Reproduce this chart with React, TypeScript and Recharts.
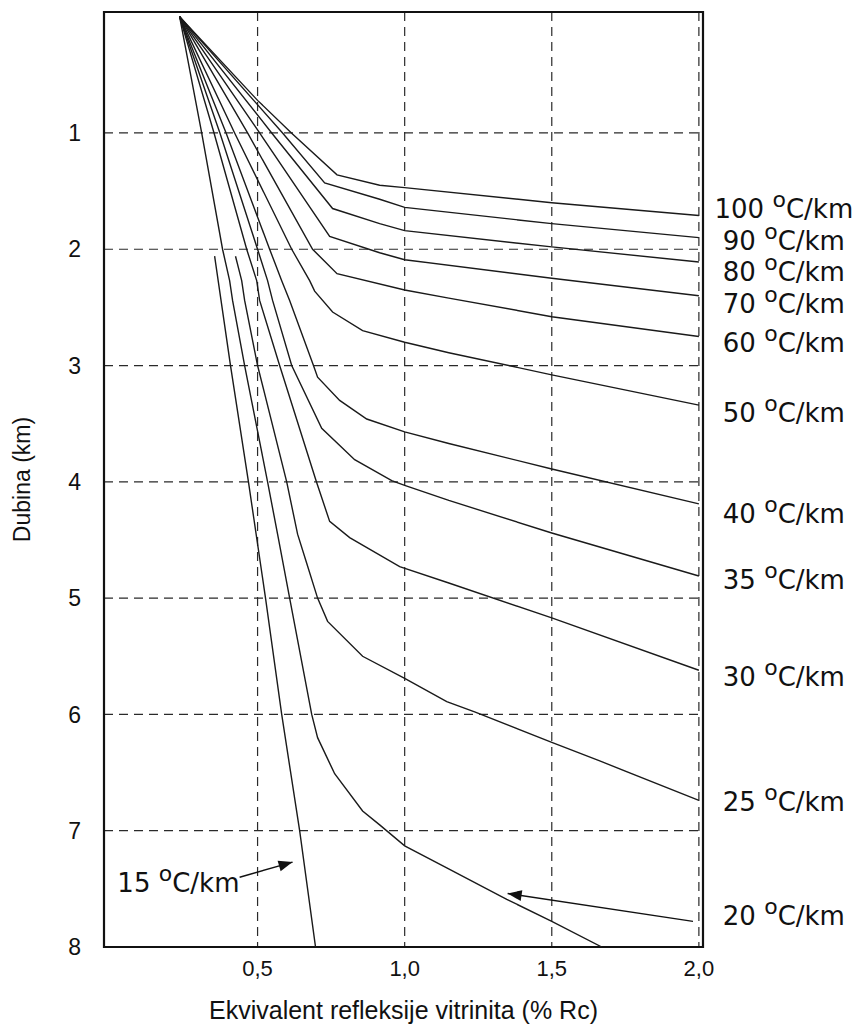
import {
  LineChart,
  Line,
  XAxis,
  YAxis,
  CartesianGrid,
  ReferenceArea,
  ReferenceDot,
  ReferenceLine,
} from "recharts";

// Depth (km) vs. equivalent vitrinite reflectance (% Rc), one curve per geothermal gradient.
const X_TICKS = [0.5, 1.0, 1.5, 2.0];
const Y_TICKS = [1, 2, 3, 4, 5, 6, 7, 8];

const G100 = [[0.235, 0], [0.5, 0.72], [0.615, 1.0], [0.77, 1.36], [0.915, 1.45], [1.0, 1.47], [1.5, 1.6], [2.0, 1.71]];
const G90 = [[0.235, 0], [0.585, 1.0], [0.728, 1.43], [0.915, 1.57], [1.0, 1.64], [1.5, 1.78], [2.0, 1.9]];
const G80 = [[0.235, 0], [0.548, 1.0], [0.755, 1.65], [0.915, 1.78], [1.0, 1.84], [1.5, 1.98], [2.0, 2.11]];
const G70 = [[0.235, 0], [0.507, 1.0], [0.745, 1.89], [0.915, 2.03], [1.0, 2.09], [1.5, 2.25], [2.0, 2.4]];
const G60 = [[0.235, 0], [0.466, 1.0], [0.687, 2.0], [0.77, 2.21], [1.0, 2.35], [1.15, 2.42], [1.5, 2.58], [2.0, 2.75]];
const G50 = [[0.235, 0], [0.422, 1.0], [0.616, 2.0], [0.677, 2.27], [0.694, 2.36], [0.755, 2.54], [0.857, 2.7], [1.0, 2.8], [1.15, 2.89], [1.5, 3.08], [2.0, 3.34]];
const G40 = [[0.235, 0], [0.393, 1.0], [0.541, 2.0], [0.582, 2.27], [0.609, 2.44], [0.69, 3.0], [0.704, 3.1], [0.779, 3.3], [0.871, 3.46], [1.0, 3.57], [1.15, 3.67], [1.5, 3.89], [2.0, 4.19]];
const G35 = [[0.235, 0], [0.372, 1.0], [0.5, 2.0], [0.534, 2.27], [0.551, 2.44], [0.616, 3.0], [0.718, 3.54], [0.83, 3.81], [0.956, 3.99], [1.0, 4.03], [1.15, 4.16], [1.5, 4.44], [2.0, 4.81]];
const G30 = [[0.235, 0], [0.352, 1.0], [0.463, 2.0], [0.497, 2.27], [0.507, 2.44], [0.575, 3.0], [0.7, 4.0], [0.745, 4.34], [0.813, 4.48], [0.983, 4.73], [1.15, 4.87], [1.5, 5.17], [2.0, 5.62]];
const G25 = [[0.425, 2.06], [0.446, 2.27], [0.456, 2.44], [0.5, 3.0], [0.599, 4.0], [0.636, 4.45], [0.667, 4.7], [0.704, 5.0], [0.738, 5.2], [0.857, 5.5], [1.0, 5.69], [1.143, 5.89], [1.24, 5.98], [1.5, 6.24], [1.663, 6.4], [2.0, 6.74]];
const G20 = [[0.235, 0], [0.31, 1.0], [0.381, 2.0], [0.405, 2.27], [0.415, 2.44], [0.456, 3.0], [0.534, 4.0], [0.568, 4.45], [0.609, 5.0], [0.684, 6.0], [0.704, 6.2], [0.762, 6.51], [0.857, 6.83], [0.915, 6.95], [1.0, 7.13], [1.143, 7.32], [1.347, 7.59], [1.5, 7.78], [1.67, 8.0]];
const G15 = [[0.354, 2.06], [0.408, 3.0], [0.469, 4.0], [0.527, 5.0], [0.582, 6.0], [0.643, 7.0], [0.697, 8.0]];

const CURVES = [G100, G90, G80, G70, G60, G50, G40, G35, G30, G25, G20, G15];

// gradient labels on the right side: [gradient, depth of label]
const RIGHT_LABELS: [string, number][] = [
  ["100", 1.65], ["90", 1.93], ["80", 2.2], ["70", 2.47], ["60", 2.81], ["50", 3.41],
  ["40", 4.28], ["35", 4.84], ["30", 5.68], ["25", 6.75], ["20", 7.73],
];
const LABEL_15: [number, number] = [0.231, 7.45];

// annotation arrows: [tailX, tailD, tipX, tipD]
const ARROWS = [
  [0.439, 7.4, 0.619, 7.27],
  [1.98, 7.78, 1.35, 7.54],
];

const X_DOMAIN: [number, number] = [-0.022, 2.014];
const Y_DOMAIN: [number, number] = [-0.04, 8];
const PLOT_W = 599;
const PLOT_H = 935;
const SX = PLOT_W / (X_DOMAIN[1] - X_DOMAIN[0]);
const SY = PLOT_H / (Y_DOMAIN[1] - Y_DOMAIN[0]);

const FONT = "'Liberation Sans', Arial, sans-serif";
const LABEL_FONT = "'DejaVu Sans', sans-serif";
const INK = "#111";

const toPts = (arr: number[][]) => arr.map(([x, d]) => ({ x, d }));

function gradText(x: number, y: number, value: string) {
  return (
    <text x={x} y={y} textAnchor="middle" fontFamily={LABEL_FONT} fontSize={26} fill={INK}>
      {value}{" "}
      <tspan fontSize={22} dy={-11}>o</tspan>
      <tspan dy={11}>C/km</tspan>
    </text>
  );
}

function YTitle(props: any) {
  const { viewBox } = props;
  const cx = viewBox.x - 22;
  const cy = viewBox.y + viewBox.height / 2;
  return (
    <text
      x={cx}
      y={cy}
      transform={`rotate(-90 ${cx} ${cy})`}
      textAnchor="middle"
      dominantBaseline="central"
      fontFamily={FONT}
      fontSize={23}
      fill={INK}
    >
      Dubina (km)
    </text>
  );
}

function XTitle(props: any) {
  const { viewBox } = props;
  return (
    <text
      x={viewBox.x + viewBox.width / 2}
      y={viewBox.y + 72}
      textAnchor="middle"
      fontFamily={FONT}
      fontSize={25}
      fill={INK}
    >
      Ekvivalent refleksije vitrinita (% Rc)
    </text>
  );
}

export default function App() {
  // fixed box so the page never grows a scrollbar
  return (
    <div style={{ position: "fixed", left: 8, top: 8, width: 847, height: 1020, background: "#fff" }}>
      <LineChart width={847} height={1020} margin={{ top: 4, right: 152, bottom: 41, left: 36 }}>
        <CartesianGrid stroke="#2a2a2a" strokeWidth={1.2} strokeDasharray="9 6" />
        <XAxis
          type="number"
          dataKey="x"
          domain={X_DOMAIN}
          ticks={X_TICKS}
          allowDataOverflow
          axisLine={false}
          tickLine={false}
          tickSize={0}
          tickMargin={13}
          height={40}
          tick={{ fontSize: 22, fill: INK, fontFamily: FONT }}
          tickFormatter={(v: number) => v.toFixed(1).replace(".", ",")}
          label={XTitle}
        />
        <YAxis
          type="number"
          dataKey="d"
          reversed
          domain={Y_DOMAIN}
          ticks={Y_TICKS}
          allowDataOverflow
          axisLine={false}
          tickLine={false}
          tickSize={0}
          tickMargin={23}
          width={60}
          tick={{ fontSize: 23, fill: INK, fontFamily: FONT }}
          label={YTitle}
        />
        {CURVES.map((c, i) => (
          <Line
            key={i}
            data={toPts(c)}
            dataKey="d"
            type="linear"
            stroke="#1a1a1a"
            strokeWidth={1.4}
            dot={false}
            activeDot={false}
            isAnimationActive={false}
          />
        ))}
        {ARROWS.map(([x1, d1, x2, d2], i) => (
          <ReferenceLine
            key={`a${i}`}
            segment={[{ x: x1, y: d1 }, { x: x2, y: d2 }]}
            stroke={INK}
            strokeWidth={1.4}
          />
        ))}
        {ARROWS.map(([x1, d1, x2, d2], i) => (
          <ReferenceDot
            key={`h${i}`}
            x={x2}
            y={d2}
            r={3}
            shape={(p: any) => {
              const deg = (Math.atan2((d2 - d1) * SY, (x2 - x1) * SX) * 180) / Math.PI;
              return (
                <polygon
                  points="0,0 -14,-5.5 -14,5.5"
                  transform={`translate(${p.cx},${p.cy}) rotate(${deg})`}
                  fill={INK}
                />
              );
            }}
          />
        ))}
        {RIGHT_LABELS.map(([g, d]) => (
          <ReferenceDot
            key={`l${g}`}
            x={2.0}
            y={d}
            r={3}
            ifOverflow="visible"
            shape={(p: any) => gradText(p.cx + 85, p.cy + 9, g)}
          />
        ))}
        <ReferenceDot
          x={LABEL_15[0]}
          y={LABEL_15[1]}
          r={3}
          shape={(p: any) => gradText(p.cx, p.cy + 9, "15")}
        />
        <ReferenceArea
          x1={X_DOMAIN[0]}
          x2={X_DOMAIN[1]}
          y1={Y_DOMAIN[0]}
          y2={Y_DOMAIN[1]}
          fill="none"
          fillOpacity={0}
          stroke={INK}
          strokeWidth={2.2}
        />
      </LineChart>
    </div>
  );
}
